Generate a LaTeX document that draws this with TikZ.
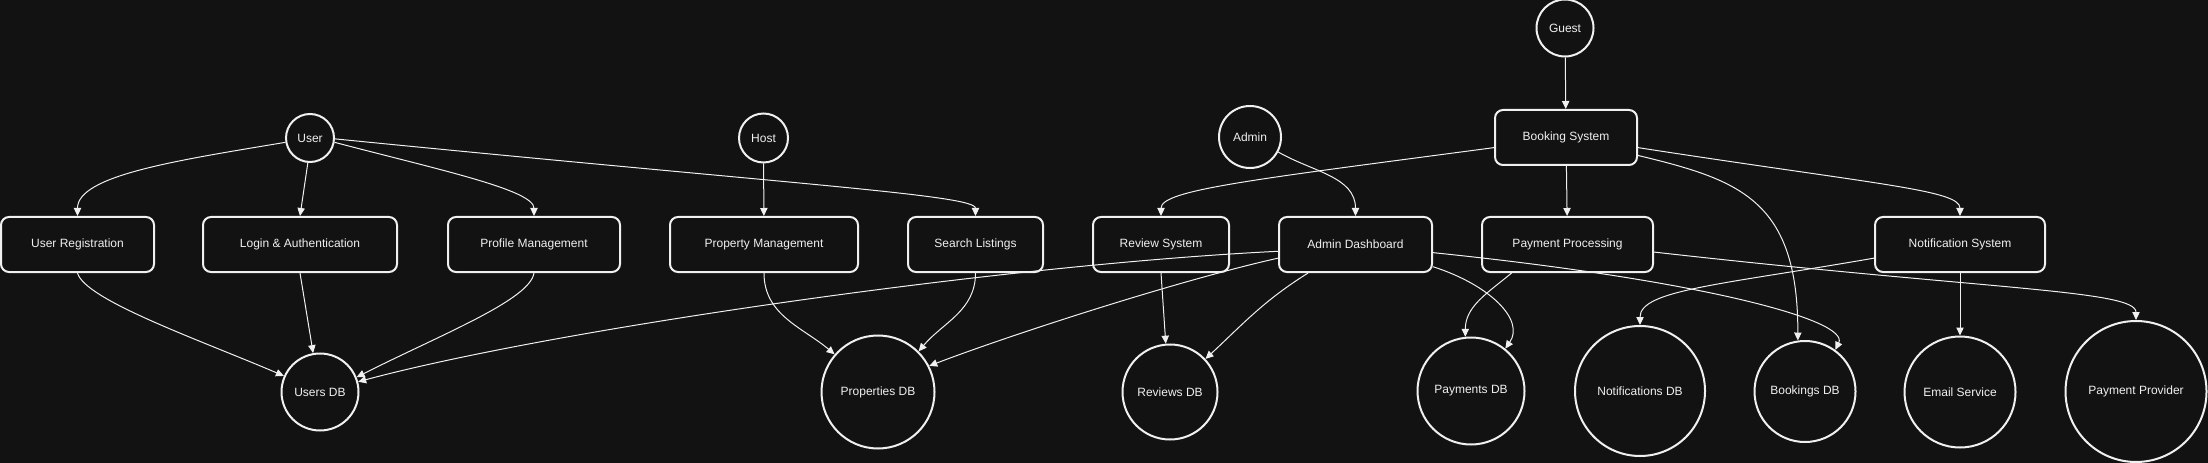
\documentclass[tikz,border=0pt]{standalone}
\usepackage{fontspec}
\setmainfont{Liberation Sans}
\usetikzlibrary{arrows.meta}
\definecolor{bg}{HTML}{121212}
\definecolor{ink}{HTML}{F0F0F0}
\begin{document}
\begin{tikzpicture}[>={Triangle[length=6pt,width=5.5pt]}, x=.75pt, y=.75pt, color=ink, line width=.75pt,
        every node/.style={font=\fontsize{9pt}{11pt}\selectfont},
        actor/.style={draw, circle, line width=1.5pt, inner sep=0pt},
        box/.style={draw, rounded corners=6pt, line width=1.5pt, minimum height=41.25pt, inner sep=0pt},
        db/.style={draw, circle, line width=1.5pt, inner sep=0pt}]
        \useasboundingbox(0,0)rectangle(2208,-463);
        \fill[bg](0,0)rectangle(2208,-463);

        \node[actor, minimum size=36pt](user) at (310,-138){User};
        \node[actor, minimum size=36.75pt](host) at (763.5,-138){Host};
        \node[actor, minimum size=46.5pt](admin) at (1250,-137){Admin};
        \node[actor, minimum size=42.75pt](guest) at (1565,-28){Guest};

        \node[box, minimum width=114.75pt](ureg) at (77.5,-244.5){User Registration};
        \node[box, minimum width=145.5pt](login) at (300,-244.5){Login \& Authentication};
        \node[box, minimum width=129pt](profile) at (534,-244.5){Profile Management};
        \node[box, minimum width=141pt](propmgmt) at (764,-244.5){Property Management};
        \node[box, minimum width=101.25pt](search) at (975.5,-244.5){Search Listings};
        \node[box, minimum width=102pt](review) at (1161,-244.5){Review System};
        \node[box, minimum width=114.75pt](adash) at (1355.5,-244.5){Admin Dashboard};
        \node[box, minimum width=106.5pt](booking) at (1566,-137.5){Booking System};
        \node[box, minimum width=128.25pt](payproc) at (1567.5,-244.5){Payment Processing};
        \node[box, minimum width=127.5pt](notify) at (1960,-244.5){Notification System};

        \node[db, minimum size=57.75pt](usersdb) at (320,-392){Users DB};
        \node[db, minimum size=84.75pt](propdb) at (878,-392){Properties DB};
        \node[db, minimum size=71.25pt](reviewdb) at (1170,-392){Reviews DB};
        \node[db, minimum size=80.25pt](paydb) at (1471,-391){Payments DB};
        \node[db, minimum size=97.5pt](notifdb) at (1640,-391){Notifications DB};
        \node[db, minimum size=75.75pt](bookdb) at (1805,-391.5){Bookings DB};
        \node[db, minimum size=83.25pt](email) at (1960,-392){Email Service};
        \node[db, minimum size=105.75pt](provider) at (2136,-391.5){Payment Provider};

        \draw[->](user.190)..controls(180,-160)and(77.5,-175)..(ureg.north);
        \draw[->](user.265)--(login.north);
        \draw[->](user.-10)..controls(440,-170)and(534,-190)..(profile.north);
        \draw[->](user.-2)..controls(800,-185)and(975.5,-195)..(search.north);
        \draw[->](host)--(propmgmt);
        \draw[->](admin.-28)to[out=-30,in=90](adash.north);
        \draw[->](guest)--(booking);
        \draw[->](booking.188)..controls(1250,-180)and(1161,-190)..(review.north);
        \draw[->](booking)--(payproc);
        \draw[->](booking.-14)..controls(1740,-180)and(1798,-200)..(bookdb.98);
        \draw[->](booking.-8)..controls(1880,-185)and(1960,-190)..(notify.north);

        \draw[->](ureg.south)..controls(85,-300)and(200,-340)..(usersdb.156);
        \draw[->](login.south)--(usersdb.100);
        \draw[->](profile.south)..controls(530,-300)and(440,-335)..(usersdb.22);
        \draw[->](adash.185)..controls(1000,-265)and(550,-330)..(usersdb.15);
        \draw[->](propmgmt.south)to[out=-90,in=140](propdb.139);
        \draw[->](search.south)to[out=-90,in=50](propdb.45);
        \draw[->](adash.190)..controls(1180,-280)and(1010,-335)..(propdb.27);
        \draw[->](review.south)--(reviewdb.95);
        \draw[->](adash.211)to[out=212,in=43](reviewdb.43);
        \draw[->](adash.-16)..controls(1490,-285)and(1525,-320)..(paydb.51);
        \draw[->](adash.-6)..controls(1700,-280)and(1850,-320)..(bookdb.54);
        \draw[->](payproc.207)to[out=220,in=90](paydb.96);
        \draw[->](payproc.-5)..controls(1990,-290)and(2136,-290)..(provider.north);
        \draw[->](notify.189)..controls(1720,-285)and(1640,-290)..(notifdb.north);
        \draw[->](notify)--(email);
\end{tikzpicture}
\end{document}
